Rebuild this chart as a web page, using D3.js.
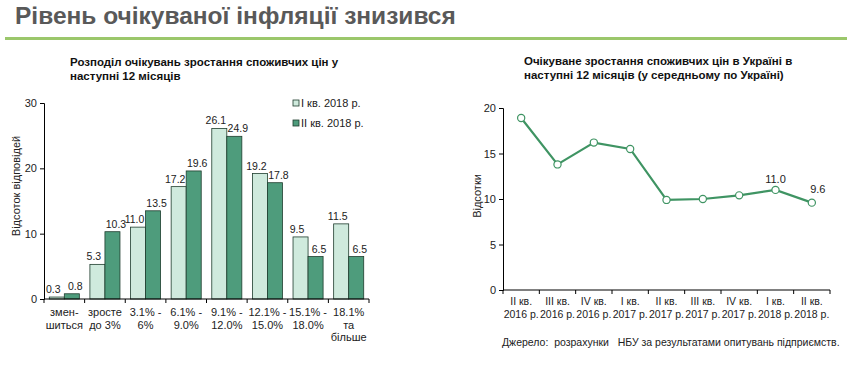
<!DOCTYPE html>
<html><head><meta charset="utf-8">
<script src="https://cdn.jsdelivr.net/npm/d3@7"></script>
<style>
body{margin:0;background:#fff;font-family:"Liberation Sans",Arial,sans-serif;}
svg text{font-family:"Liberation Sans",Arial,sans-serif;}
</style></head>
<body><svg id="c" width="852" height="367"></svg>
<script>
// ---- Data ----
const barCategories = [["змен-","шиться"],["зросте","до 3%"],["3.1% -","6%"],["6.1% -","9.0%"],["9.1% -","12.0%"],["12.1% -","15.0%"],["15.1% -","18.0%"],["18.1%","та","більше"]];
const seriesQ1 = [0.3, 5.3, 11.0, 17.2, 26.1, 19.2, 9.5, 11.5];
const seriesQ2 = [0.8, 10.3, 13.5, 19.6, 24.9, 17.8, 6.5, 6.5];
const seriesNames = ["I кв. 2018 р.", "II кв. 2018 р."];
const barTicks = [0, 10, 20, 30];

const lineCategories = [["II кв.","2016 р."],["III кв.","2016 р."],["IV кв.","2016 р."],["I кв.","2017 р."],["II кв.","2017 р."],["III кв.","2017 р."],["IV кв.","2017 р."],["I кв.","2018 р."],["II кв.","2018 р."]];
const lineValues = [18.9, 13.8, 16.2, 15.5, 9.9, 10.0, 10.4, 11.0, 9.6];
const lineTicks = [0, 5, 10, 15, 20];

const svg = d3.select("#c");
const lightFill = "#cfeadd", darkFill = "#4e9c7c", outline = "#1f3d2e", lineCol = "#3f9463";

// Header
svg.append("text").attr("x", 15).attr("y", 24).attr("font-size", 24.5).attr("font-weight", "bold")
  .attr("fill", "#595959").text("Рівень очікуваної інфляції знизився");
svg.append("rect").attr("x", 5).attr("y", 37).attr("width", 842).attr("height", 3).attr("fill", "#9bc76b");

// ---- Left bar chart ----
const L = svg.append("g");
L.append("text").attr("x", 70).attr("y", 66).attr("font-size", 11.5).attr("font-weight", "bold").attr("fill", "#111")
  .selectAll("tspan").data(["Розподіл очікувань зростання споживчих цін у", "наступні 12 місяців"]).join("tspan")
  .attr("x", 70).attr("dy", (d, i) => i ? 14 : 0).text(d => d);

const xb = d3.scaleBand().domain(d3.range(barCategories.length)).range([44, 369]).paddingInner(0.26).paddingOuter(0.13);
const yb = d3.scaleLinear().domain([0, 30]).range([299, 103]);

const bw = xb.bandwidth() / 2;
const groups = L.append("g");
[seriesQ1, seriesQ2].forEach((s, si) => {
  groups.selectAll(null).data(s).join("rect")
    .attr("x", (d, i) => xb(i) + si * bw).attr("y", d => yb(d))
    .attr("width", bw).attr("height", d => yb(0) - yb(d))
    .attr("fill", si ? darkFill : lightFill).attr("stroke", outline).attr("stroke-width", 0.8);
  groups.selectAll(null).data(s).join("text")
    .attr("x", (d, i) => xb(i) + si * bw + bw / 2 + (si ? 3.5 : -3.5)).attr("y", d => yb(d) - 4)
    .attr("text-anchor", "middle").attr("font-size", 10.5).attr("fill", "#222")
    .text(d => d.toFixed(1));
});

const yAxisB = L.append("g").attr("transform", "translate(44,0)")
  .call(d3.axisLeft(yb).tickValues(barTicks).tickSize(4).tickFormat(d3.format("d")));
const xAxisB = L.append("g").attr("transform", "translate(0,299)")
  .call(d3.axisBottom(xb).tickSize(0).tickFormat(""));
xAxisB.selectAll(".tick").remove();
xAxisB.select(".domain").attr("d", "M44,0H369");
L.selectAll(null).data(d3.range(barCategories.length + 1)).join("line")
  .attr("x1", i => 44 + i * (325 / barCategories.length)).attr("x2", i => 44 + i * (325 / barCategories.length))
  .attr("y1", 299).attr("y2", 303).attr("stroke", "#000");
[yAxisB, xAxisB].forEach(a => { a.selectAll("path,line").attr("stroke", "#000"); a.selectAll("text").attr("font-size", 11).attr("fill", "#222").attr("font-family", "Liberation Sans, Arial"); });

L.selectAll(null).data(barCategories).join("text")
  .attr("text-anchor", "middle").attr("font-size", 11).attr("fill", "#222")
  .attr("transform", (d, i) => `translate(${xb(i) + xb.bandwidth() / 2},316)`)
  .selectAll("tspan").data(d => d).join("tspan").attr("x", 0).attr("dy", (d, i) => i ? 12.5 : 0).text(d => d);

L.append("text").attr("transform", "translate(20,186) rotate(-90)").attr("text-anchor", "middle")
  .attr("font-size", 11).attr("fill", "#222").text("Відсоток відповідей");

const lg = L.append("g");
seriesNames.forEach((n, i) => {
  lg.append("rect").attr("x", 293).attr("y", 100 + i * 20).attr("width", 6).attr("height", 6)
    .attr("fill", i ? darkFill : lightFill).attr("stroke", outline).attr("stroke-width", 0.8);
  lg.append("text").attr("x", 301).attr("y", 107 + i * 20).attr("font-size", 11).attr("fill", "#222").text(n);
});

// ---- Right line chart ----
const R = svg.append("g");
R.append("text").attr("x", 524).attr("y", 65).attr("font-size", 11.5).attr("font-weight", "bold").attr("fill", "#111")
  .selectAll("tspan").data(["Очікуване зростання споживчих цін в Україні в", "наступні 12 місяців (у середньому по Україні)"]).join("tspan")
  .attr("x", 524).attr("dy", (d, i) => i ? 14 : 0).text(d => d);

const xl = d3.scaleBand().domain(d3.range(lineCategories.length)).range([503, 830]);
const yl = d3.scaleLinear().domain([0, 20]).range([290, 108]);

const yAxisL = R.append("g").attr("transform", "translate(503,0)")
  .call(d3.axisLeft(yl).tickValues(lineTicks).tickSize(4).tickFormat(d3.format("d")));
const xAxisL = R.append("g").attr("transform", "translate(0,290)")
  .call(d3.axisBottom(xl).tickSize(0).tickFormat(""));
xAxisL.selectAll(".tick").remove();
xAxisL.select(".domain").attr("d", "M503,0H830");
R.selectAll(null).data(d3.range(lineCategories.length + 1)).join("line")
  .attr("x1", i => 503 + i * xl.step()).attr("x2", i => 503 + i * xl.step())
  .attr("y1", 290).attr("y2", 294).attr("stroke", "#000");
[yAxisL, xAxisL].forEach(a => { a.selectAll("path,line").attr("stroke", "#000"); a.selectAll("text").attr("font-size", 11).attr("fill", "#222").attr("font-family", "Liberation Sans, Arial"); });

R.selectAll(null).data(lineCategories).join("text")
  .attr("text-anchor", "middle").attr("font-size", 10.5).attr("fill", "#222")
  .attr("transform", (d, i) => `translate(${xl(i) + xl.bandwidth() / 2},305)`)
  .selectAll("tspan").data(d => d).join("tspan").attr("x", 0).attr("dy", (d, i) => i ? 12.5 : 0).text(d => d);

R.append("text").attr("transform", "translate(481,196) rotate(-90)").attr("text-anchor", "middle")
  .attr("font-size", 11).attr("fill", "#222").text("Відсотки");

const line = d3.line().x((d, i) => xl(i) + xl.bandwidth() / 2).y(d => yl(d));
R.append("path").datum(lineValues).attr("d", line).attr("fill", "none").attr("stroke", lineCol).attr("stroke-width", 2.2);
R.selectAll(null).data(lineValues).join("circle")
  .attr("cx", (d, i) => xl(i) + xl.bandwidth() / 2).attr("cy", d => yl(d)).attr("r", 3.6)
  .attr("fill", "#fff").attr("stroke", lineCol).attr("stroke-width", 1.2);
// labels for last two points
const n = lineValues.length;
R.append("text").attr("x", xl(n - 2) + xl.bandwidth() / 2).attr("y", yl(lineValues[n - 2]) - 7).attr("text-anchor", "middle")
  .attr("font-size", 11).attr("fill", "#222").text(lineValues[n - 2].toFixed(1));
R.append("text").attr("x", xl(n - 1) + xl.bandwidth() / 2 + 6).attr("y", yl(lineValues[n - 1]) - 10).attr("text-anchor", "middle")
  .attr("font-size", 11).attr("fill", "#222").text(lineValues[n - 1].toFixed(1));

R.append("text").attr("x", 502).attr("y", 346).attr("font-size", 10.5).attr("fill", "#222")
  .attr("xml:space", "preserve").style("white-space", "pre")
  .text("Джерело:  розрахунки   НБУ за результатами опитувань підприємств.");
</script></body></html>
